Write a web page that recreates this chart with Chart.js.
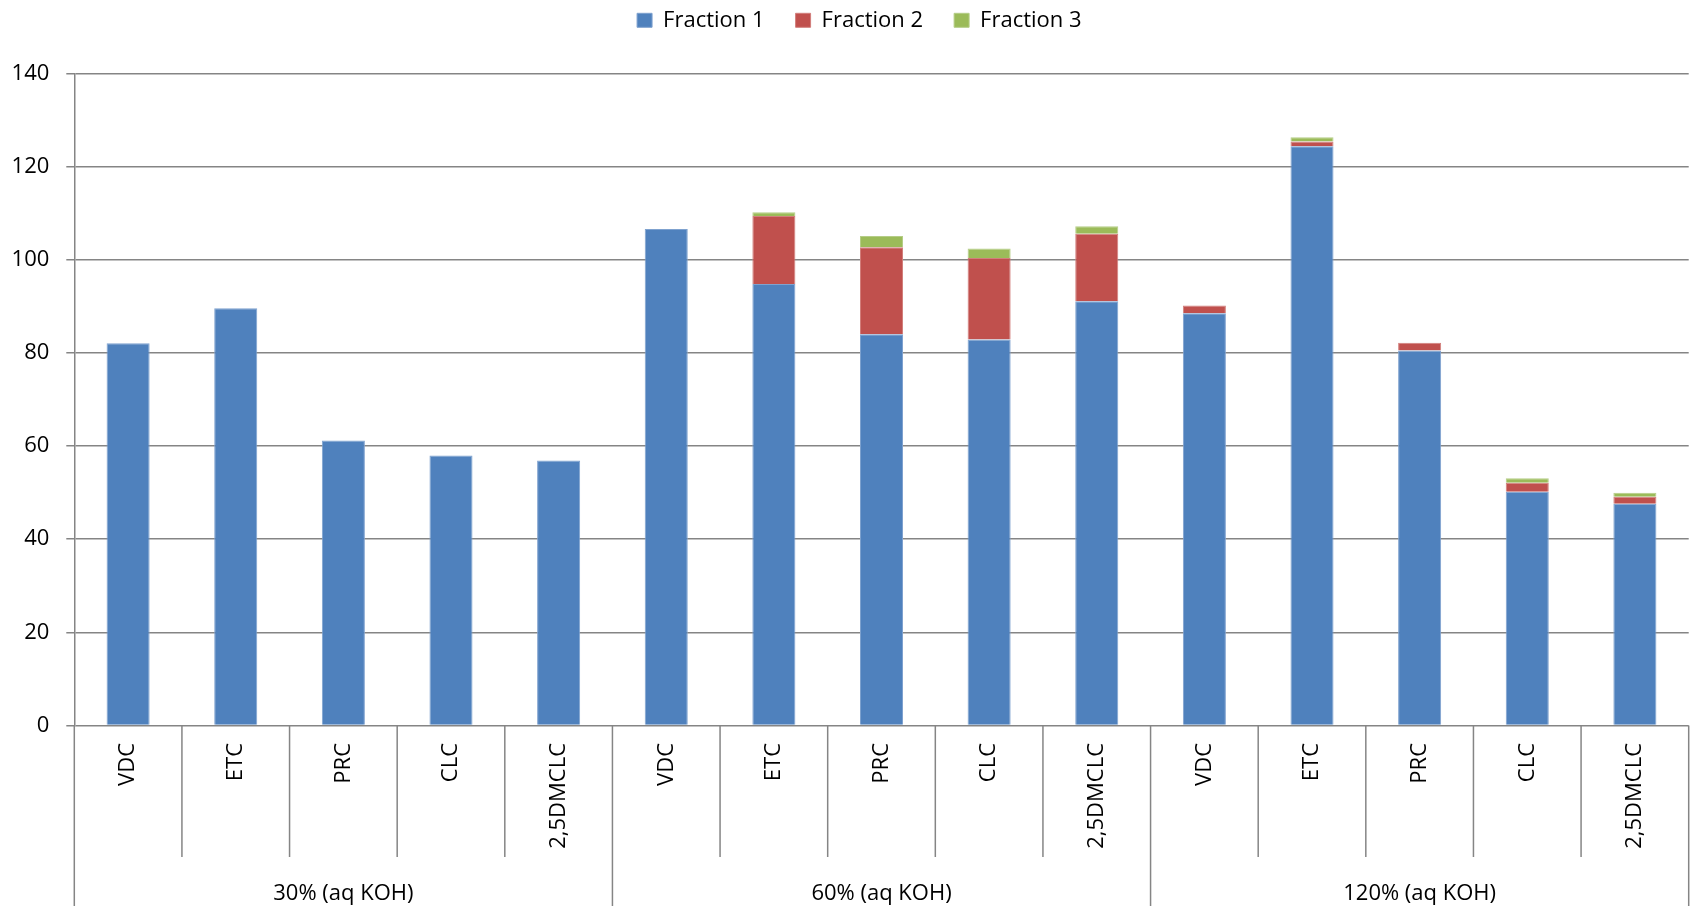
<!DOCTYPE html>
<html>
<head>
<meta charset="utf-8">
<title>Fractions by solvent and KOH loading</title>
<script src="https://cdn.jsdelivr.net/npm/chart.js@4/dist/chart.umd.min.js"></script>
<style>
  html, body { margin: 0; padding: 0; background: #ffffff; }
  #wrap { width: 1694px; height: 906px; }
</style>
</head>
<body>
<div id="wrap"><canvas id="chart" width="1694" height="906"></canvas></div>
<script>
// Groups (KOH loading) and the compounds measured in each group
const groups = ['30% (aq KOH)', '60% (aq KOH)', '120% (aq KOH)'];
const compounds = ['VDC', 'ETC', 'PRC', 'CLC', '2,5DMCLC'];

// Stacked fractions, one value per compound in group order
const fraction1 = [82.1, 89.6, 61.2, 58.0, 56.9, 106.6, 94.8, 84.0, 82.9, 91.1, 88.5, 124.4, 80.5, 50.2, 47.6];
const fraction2 = [null, null, null, null, null, null, 14.6, 18.7, 17.5, 14.5, 1.7, 1.0, 1.7, 1.9, 1.5];
const fraction3 = [null, null, null, null, null, null, 0.8, 2.4, 2.0, 1.6, null, 0.9, null, 1.0, 0.9];

// Value axis ticks
const yTicks = [0, 20, 40, 60, 80, 100, 120, 140];

const labels = [];
groups.forEach(() => compounds.forEach(c => labels.push(c)));

const FONT = "'Open Sans', 'Noto Sans', sans-serif";
const LINE = '#858585';
Chart.defaults.font.family = FONT;
Chart.defaults.color = '#000000';

// Leaves a gap between the legend and the plot, and nudges the legend row right
const legendGap = {
  id: 'legendGap',
  beforeInit(chart) {
    if (!chart.legend) return;
    const fit = chart.legend.fit;
    chart.legend.fit = function () {
      fit.call(this);
      this.height += 32.2;
    };
  },
  afterLayout(chart) {
    if (chart.legend) chart.legend.left += 30;
  }
};

// Category separators below the axis and the group captions
const groupAxis = {
  id: 'groupAxis',
  afterDraw(chart) {
    const x = chart.scales.x;
    const area = chart.chartArea;
    const ctx = chart.ctx;
    const n = labels.length;
    const per = compounds.length;
    ctx.save();
    ctx.strokeStyle = LINE;
    ctx.lineWidth = 1.5;
    for (let i = 0; i <= n; i++) {
      const px = x.getPixelForValue(i - 0.5);
      const bottom = (i % per === 0) ? chart.height : area.bottom + 131.5;
      ctx.beginPath();
      ctx.moveTo(px, area.bottom);
      ctx.lineTo(px, bottom);
      ctx.stroke();
    }
    ctx.fillStyle = '#000000';
    ctx.font = '22px ' + FONT;
    ctx.textAlign = 'center';
    ctx.textBaseline = 'middle';
    groups.forEach((g, gi) => {
      const cx = x.getPixelForValue(gi * per + (per - 1) / 2);
      ctx.fillText(g, cx, 894);
    });
    ctx.restore();
  }
};

new Chart(document.getElementById('chart'), {
  type: 'bar',
  data: {
    labels: labels,
    datasets: [
      { label: 'Fraction 1', data: fraction1, backgroundColor: '#4F81BD', borderColor: '#7fa2cf', borderWidth: 1 },
      { label: 'Fraction 2', data: fraction2, backgroundColor: '#C0504D', borderColor: '#d27f7c', borderWidth: 1 },
      { label: 'Fraction 3', data: fraction3, backgroundColor: '#9BBB59', borderColor: '#b5cd87', borderWidth: 1 }
    ]
  },
  options: {
    responsive: false,
    animation: false,
    barPercentage: 0.4,
    categoryPercentage: 1.0,
    layout: { padding: { top: -21.7, left: 0, right: 5.3, bottom: 0 } },
    plugins: {
      tooltip: { enabled: false },
      legend: {
        position: 'top',
        align: 'center',
        labels: {
          boxWidth: 15,
          boxHeight: 14,
          padding: 31,
          color: '#000000',
          font: { size: 22, family: FONT }
        }
      }
    },
    scales: {
      x: {
        stacked: true,
        offset: true,
        grid: { display: false, drawTicks: false },
        border: { display: false },
        ticks: {
          autoSkip: false,
          minRotation: 90,
          maxRotation: 90,
          padding: 17.5,
          color: '#000000',
          font: { size: 22, family: FONT }
        },
        afterFit(scale) { scale.height = 180.5; }
      },
      y: {
        stacked: true,
        min: yTicks[0],
        max: yTicks[yTicks.length - 1],
        afterBuildTicks(scale) { scale.ticks = yTicks.map(v => ({ value: v })); },
        grid: { color: LINE, lineWidth: 1.5, tickLength: 8 },
        border: { display: true, color: LINE, width: 1.5 },
        ticks: {
          padding: 17,
          color: '#000000',
          font: { size: 22, family: FONT }
        },
        afterFit(scale) { scale.width = 74.3; }
      }
    }
  },
  plugins: [legendGap, groupAxis]
});
</script>
</body>
</html>
